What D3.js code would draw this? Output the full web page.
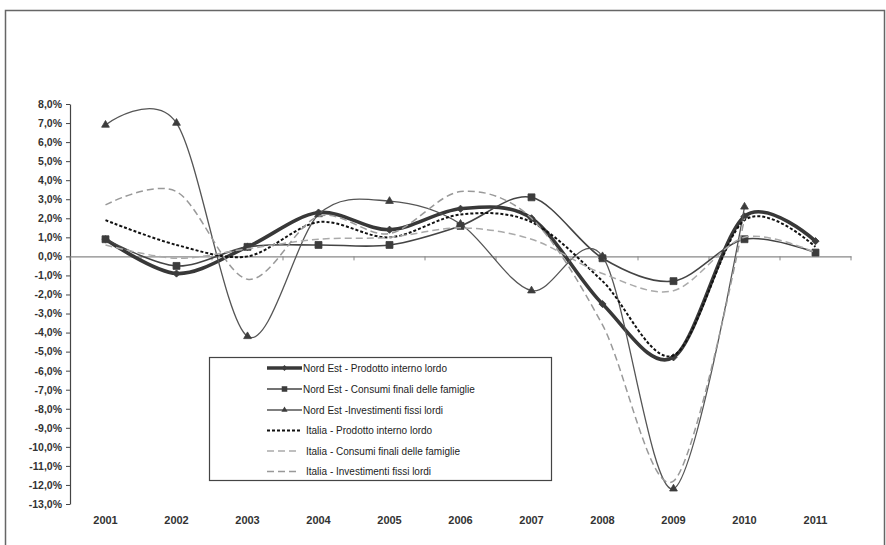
<!DOCTYPE html>
<html><head><meta charset="utf-8">
<script src="https://cdn.jsdelivr.net/npm/d3@7"></script>
<style>
body{margin:0;background:#fff}
svg{display:block}
text{font-family:"Liberation Sans",Arial,sans-serif}
</style>
</head><body>
<svg id="c" width="886" height="545"></svg>
<script>
const years = ["2001","2002","2003","2004","2005","2006","2007","2008","2009","2010","2011"];
const neGdp  = [0.9, -0.9, 0.5, 2.3, 1.4, 2.5, 2.0, -2.5, -5.3, 2.1, 0.8];
const neCons = [0.9, -0.5, 0.5, 0.6, 0.6, 1.6, 3.1, -0.1, -1.3, 0.9, 0.2];
const neInv  = [6.9, 7.0, -4.2, 2.2, 2.9, 1.7, -1.8, 0.0, -12.2, 2.6, null];
const itGdp  = [1.9, 0.6, 0.0, 1.8, 1.0, 2.2, 1.8, -1.3, -5.2, 1.9, 0.5];
const itCons = [0.6, -0.1, 0.4, 0.9, 1.0, 1.5, 0.9, -0.9, -1.8, 1.0, 0.2];
const itInv  = [2.7, 3.4, -1.2, 2.1, 1.2, 3.4, 2.0, -3.6, -11.8, 2.0, null];
const seriesNames = [
  "Nord Est - Prodotto interno lordo",
  "Nord Est - Consumi finali delle famiglie",
  "Nord Est -Investimenti fissi lordi",
  "Italia - Prodotto interno lordo",
  "Italia - Consumi finali delle famiglie",
  "Italia - Investimenti fissi lordi"
];
const yTicks = [8,7,6,5,4,3,2,1,0,-1,-2,-3,-4,-5,-6,-7,-8,-9,-10,-11,-12,-13];

const styles = [
  {color:"#383838", width:3.6, dash:null, marker:"diamond"},
  {color:"#444", width:1.6, dash:null, marker:"square"},
  {color:"#555", width:1.3, dash:null, marker:"triangle"},
  {color:"#111", width:2, dash:"3,2", marker:null},
  {color:"#aaa", width:1.5, dash:"7,4", marker:null},
  {color:"#999", width:1.5, dash:"7,4", marker:null}
];
const data = [neGdp, neCons, neInv, itGdp, itCons, itInv];

const svg = d3.select("#c");
// outer frame
svg.append("rect").attr("x",5.5).attr("y",10.5).attr("width",879).attr("height",545)
  .attr("fill","none").attr("stroke","#666").attr("stroke-width",1.5);

const x = d3.scaleBand().domain(years).range([70,851]);
const y = d3.scaleLinear().domain([-13,8]).range([504,104]);
const cx = d => x(d) + x.bandwidth()/2;
const fmt = v => v.toFixed(1).replace(".", ",").replace("\u2212","-") + "%";

// y axis
const ya = svg.append("g").attr("transform","translate(70,0)")
  .call(d3.axisLeft(y).tickValues(yTicks).tickSize(4).tickSizeOuter(0).tickFormat(fmt));
ya.select(".domain").attr("stroke","#444").attr("stroke-width",1.2);
ya.selectAll(".tick line").attr("stroke","#444");
ya.selectAll("text").attr("font-size",10.5).attr("font-weight","bold").attr("fill","#333")
  .attr("x",-8).attr("font-family","'Liberation Sans',Arial,sans-serif");

// x axis along zero
const y0 = y(0);
const xa = svg.append("g").attr("transform",`translate(0,${y0})`)
  .call(d3.axisBottom(x).tickSize(0).tickSizeOuter(0));
xa.select(".domain").attr("stroke","#888").attr("stroke-width",1.2);
xa.selectAll("text").attr("font-size",11).attr("font-weight","bold").attr("fill","#333")
  .attr("y", 520 - y0).attr("dy","0.35em").attr("font-family","'Liberation Sans',Arial,sans-serif");
const bounds = years.map(d => x(d)).concat([x.range()[1]]);
svg.append("g").selectAll("line").data(bounds).join("line")
  .attr("x1",d=>d).attr("x2",d=>d).attr("y1",y0).attr("y2",y0+4)
  .attr("stroke","#888");

// lines
const line = d3.line().defined(d => d.v != null)
  .x(d => cx(d.k)).y(d => y(d.v)).curve(d3.curveCardinal.tension(0.05));

function markerPath(type){
  if(type==="diamond") return d3.symbol(d3.symbolSquare, 26)();
  if(type==="square") return d3.symbol(d3.symbolSquare, 48)();
  if(type==="triangle") return d3.symbol(d3.symbolTriangle, 26)();
  return null;
}

data.forEach((vals,i) => {
  const st = styles[i];
  const pts = years.map((k,j) => ({k, v: vals[j]}));
  svg.append("path").datum(pts).attr("d", line)
    .attr("fill","none").attr("stroke",st.color).attr("stroke-width",st.width)
    .attr("stroke-dasharray",st.dash).attr("stroke-linejoin","round");
  if(st.marker){
    svg.append("g").selectAll("path").data(pts.filter(p=>p.v!=null)).join("path")
      .attr("d", markerPath(st.marker))
      .attr("transform", p => `translate(${cx(p.k)},${y(p.v)})` + (st.marker==="diamond"?" rotate(45)":""))
      .attr("fill","#3c3c3c").attr("stroke","#3c3c3c").attr("stroke-width",0.8);
  }
});

// legend
const lg = svg.append("g");
lg.append("rect").attr("x",209.5).attr("y",357.5).attr("width",342).attr("height",123)
  .attr("fill","#fff").attr("stroke","#444").attr("stroke-width",1.2);
const rowY = [368, 389, 410, 430.5, 451, 471.5];
seriesNames.forEach((name,i) => {
  const st = styles[i];
  const yy = rowY[i];
  const x2 = i>=4 ? 297 : 302;
  lg.append("line").attr("x1",267).attr("x2",x2).attr("y1",yy).attr("y2",yy)
    .attr("stroke",st.color).attr("stroke-width",st.width).attr("stroke-dasharray",st.dash);
  if(st.marker){
    lg.append("path").attr("d", markerPath(st.marker))
      .attr("transform",`translate(284.5,${yy}) scale(0.8)` + (st.marker==="diamond"?" rotate(45)":""))
      .attr("fill","#3c3c3c");
  }
  lg.append("text").attr("x", i>=3 ? 306 : 303).attr("y",yy).attr("dy","0.35em")
    .attr("font-size",10).attr("fill","#222").text(name);
});
</script>
</body></html>
